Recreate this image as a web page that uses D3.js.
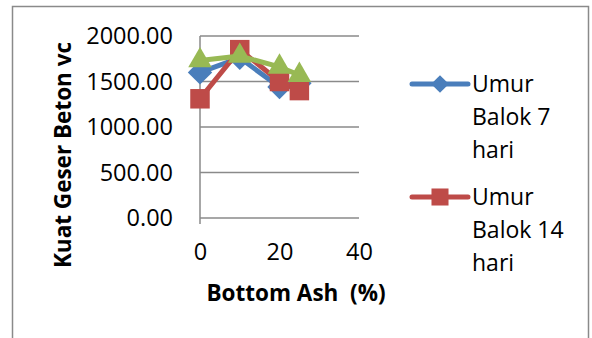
<!DOCTYPE html>
<html>
<head>
<meta charset="utf-8">
<script src="https://cdn.jsdelivr.net/npm/d3@7"></script>
<style>
  html, body { margin: 0; padding: 0; background: #fff; }
  svg { display: block; }
  text { font-family: "Open Sans", sans-serif; fill: #000; }
</style>
</head>
<body>
<svg id="chart" width="592" height="338"></svg>
<script>
// Bottom ash content (%) on the x axis
const bottomAsh = [0, 10, 20, 25];
// Shear strength vc for each beam age
const umur7 = [1600, 1760, 1440, 1480];
const umur14 = [1310, 1850, 1500, 1400];
const umur28 = [1730, 1780, 1660, 1570];
const seriesNames = ["Umur Balok 7 hari", "Umur Balok 14 hari", "Umur Balok 28 hari"];
const legendLines = [["Umur", "Balok 7", "hari"], ["Umur", "Balok 14", "hari"]];
const yTicks = [0, 500, 1000, 1500, 2000];
const xTicks = [0, 20, 40];

const series = [
  { name: seriesNames[0], values: umur7, color: "#4A7EBB", shape: d3.symbolDiamond2 },
  { name: seriesNames[1], values: umur14, color: "#BE4B48", shape: d3.symbolSquare },
  { name: seriesNames[2], values: umur28, color: "#98B954", shape: d3.symbolTriangle }
];

const svg = d3.select("#chart");

// outer chart frame (bottom edge runs off the page)
svg.append("rect")
  .attr("x", 12.5).attr("y", 6.5)
  .attr("width", 576).attr("height", 340)
  .attr("fill", "#fff").attr("stroke", "#8a8a8a").attr("stroke-width", 1.5);

const x = d3.scaleLinear().domain([0, 40]).range([200, 359]);
const y = d3.scaleLinear().domain([0, 2000]).range([218, 36]);

// horizontal gridlines
svg.append("g")
  .selectAll("line")
  .data(yTicks)
  .join("line")
  .attr("x1", x(0)).attr("x2", x(40))
  .attr("y1", d => y(d)).attr("y2", d => y(d))
  .attr("stroke", "#8a8a8a").attr("stroke-width", 1.5);

// vertical axis line
svg.append("line")
  .attr("x1", x(0)).attr("x2", x(0))
  .attr("y1", y(2000)).attr("y2", y(0) + 6)
  .attr("stroke", "#8a8a8a").attr("stroke-width", 1.5);

// y axis labels
const yAxis = d3.axisLeft(y).tickValues(yTicks).tickFormat(d3.format(".2f")).tickSize(0).tickPadding(27);
const gy = svg.append("g").attr("transform", `translate(${x(0)},0)`).call(yAxis);
gy.select(".domain").remove();
gy.selectAll("text").attr("font-size", 23.5).attr("font-family", "Open Sans, sans-serif").attr("fill", "#000");

// x axis labels
const xAxis = d3.axisBottom(x).tickValues(xTicks).tickSize(0).tickPadding(0);
const gx = svg.append("g").attr("transform", `translate(0,${y(0) + 25})`).call(xAxis);
gx.select(".domain").remove();
gx.selectAll("text").attr("font-size", 23.5).attr("font-family", "Open Sans, sans-serif").attr("fill", "#000");

// axis titles
svg.append("text")
  .attr("transform", "translate(71,155) rotate(-90)")
  .attr("text-anchor", "middle")
  .attr("font-size", 22.5).attr("font-weight", "bold")
  .text("Kuat Geser Beton vc");

svg.append("text")
  .attr("x", 296).attr("y", 301)
  .attr("text-anchor", "middle")
  .attr("font-size", 22.5).attr("font-weight", "bold")
  .style("white-space", "pre")
  .text("Bottom Ash  (%)");

// series lines and markers
const line = d3.line().x((d, i) => x(bottomAsh[i])).y(d => y(d));
series.forEach(s => {
  svg.append("path")
    .datum(s.values)
    .attr("d", line)
    .attr("fill", "none")
    .attr("stroke", s.color).attr("stroke-width", 5)
    .attr("stroke-linejoin", "round");
  svg.append("g")
    .selectAll("path")
    .data(s.values)
    .join("path")
    .attr("transform", (d, i) => `translate(${x(bottomAsh[i])},${y(d)})`)
    .attr("d", d3.symbol().type(s.shape).size(s.shape === d3.symbolTriangle ? 240 : 380))
    .attr("fill", s.color);
});

// legend
const legend = svg.append("g");
legendLines.forEach((lines, k) => {
  const s = series[k];
  const cy = 84 + k * 113;
  legend.append("line")
    .attr("x1", 412).attr("x2", 468).attr("y1", cy).attr("y2", cy)
    .attr("stroke", s.color).attr("stroke-width", 5).attr("stroke-linecap", "round");
  legend.append("path")
    .attr("transform", `translate(440,${cy})`)
    .attr("d", d3.symbol().type(s.shape).size(k === 0 ? 200 : 290))
    .attr("fill", s.color);
  lines.forEach((t, j) => {
    legend.append("text")
      .attr("x", 472).attr("y", cy + j * 33 + 8)
      .attr("font-size", 23)
      .text(t);
  });
});
</script>
</body>
</html>
